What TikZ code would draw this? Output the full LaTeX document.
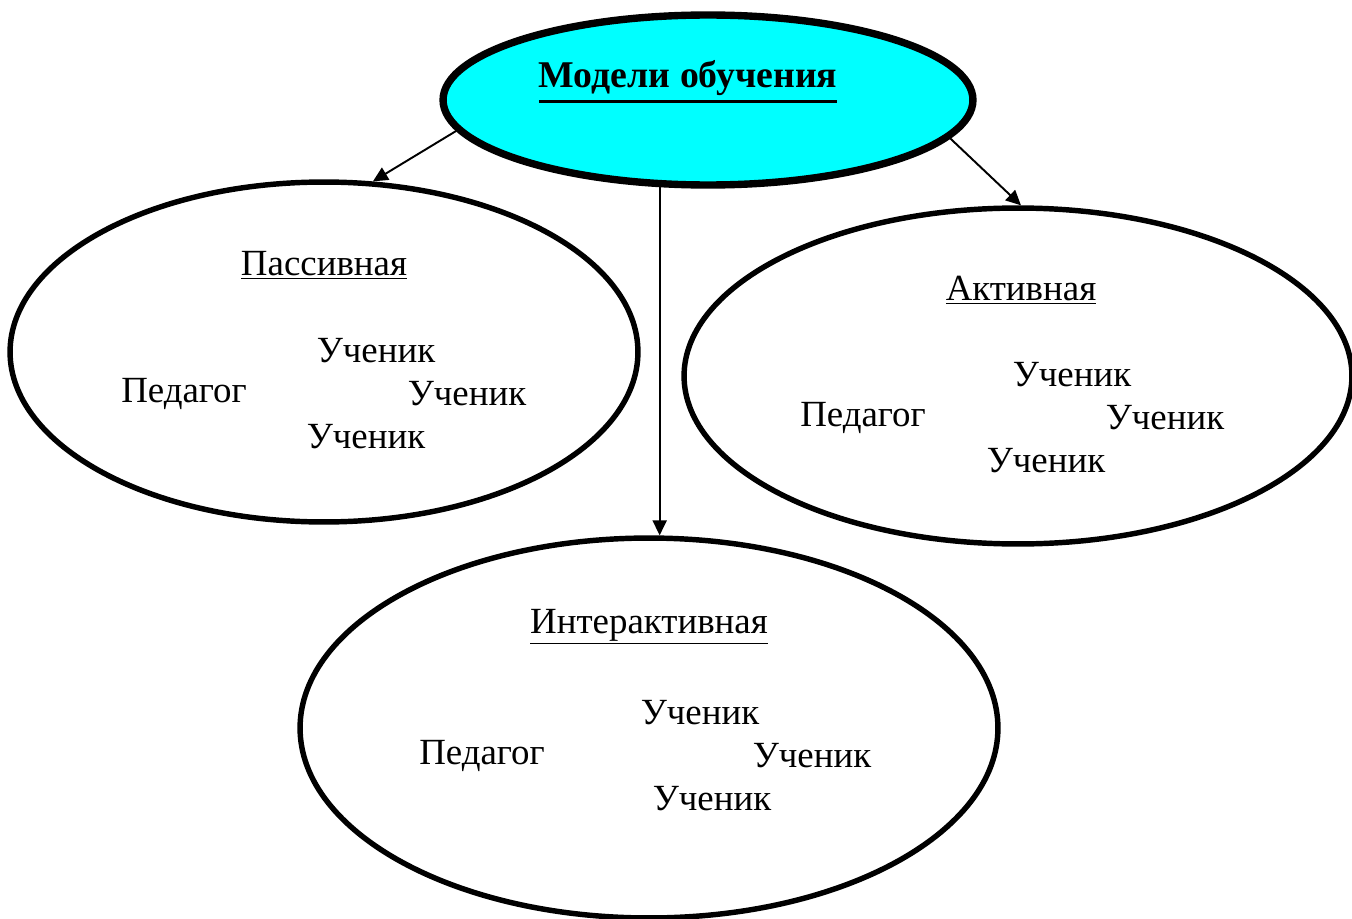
\documentclass[tikz,border=0pt]{standalone}
\usepackage{fontspec}
\setmainfont{Liberation Serif}
\usetikzlibrary{shapes.geometric,arrows.meta}
\definecolor{aqua}{RGB}{0,255,255}

\begin{document}
\begin{tikzpicture}[
	x=0.02cm, y=-0.02cm,
	model/.style={ellipse, draw, line width=3.1pt, inner sep=0pt},
	word/.style={font=\fontsize{21}{24}\selectfont, inner sep=0pt},
	link/.style={-{Triangle[length=8.5pt,width=8pt]}, line width=1.1pt},
	]
	\useasboundingbox (0,0) rectangle (1352,919);
	% ellipses
	\node [model, fill=aqua, line width=4.2pt, minimum width=10.6cm, minimum height=3.4cm] (top) at (708,100) {};
	\node [model, minimum width=12.56cm, minimum height=6.8cm] (passive) at (324,352) {};
	\node [model, minimum width=13.36cm, minimum height=6.72cm] (active) at (1018,376) {};
	\node [model, minimum width=13.96cm, minimum height=7.6cm] (inter) at (649,728) {};
	\node [word, font=\fontsize{21.5}{24}\selectfont\bfseries] (title) at (688,82)
		{\vtop{\hbox{Модели обучения}\kern2.5pt\hrule height 1.8pt}};
	% passive
	\node [word] (p0) at (324,265) {\underline{Пассивная}};
	\node [word] (p1) at (376,351) {Ученик};
	\node [word] (p2) at (184,394) {Педагог};
	\node [word] (p3) at (467,394) {Ученик};
	\node [word] (p4) at (366,437) {Ученик};
	% active
	\node [word] (a0) at (1021,290) {\underline{Активная}};
	\node [word] (a1) at (1072,375) {Ученик};
	\node [word] (a2) at (863,418) {Педагог};
	\node [word] (a3) at (1165,418) {Ученик};
	\node [word] (a4) at (1046,461) {Ученик};
	% interactive
	\node [word] (i0) at (649,627) {\underline{Интерактивная}};
	\node [word] (i1) at (700,713) {Ученик};
	\node [word] (i2) at (482,756) {Педагог};
	\node [word] (i3) at (812,756) {Ученик};
	\node [word] (i4) at (712,799) {Ученик};
	% arrows
	\draw [link] (top.187) -- (passive.74);
	\draw [link] (top.351) -- (active.89);
	\draw [link] (top.241) -- (top.241 |- inter.north);
\end{tikzpicture}
\end{document}
